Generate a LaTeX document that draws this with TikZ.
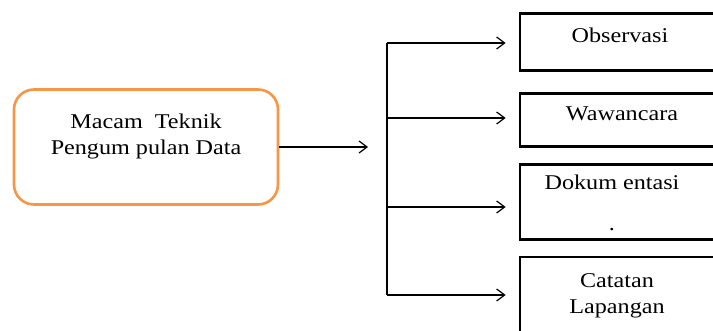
\documentclass[tikz,border=0pt]{standalone}
\usepackage{fontspec}
\setmainfont{Liberation Serif}[FakeStretch=1.15]
\usetikzlibrary{arrows.meta}
\definecolor{boxorange}{RGB}{247,150,70}

\begin{document}
\begin{tikzpicture}[x=1pt,y=-1pt,font=\fontsize{21}{26}\selectfont,
  main box/.style={draw=boxorange,line width=2.6pt,rounded corners=20pt,minimum width=264pt,minimum height=115pt},
  item box/.style={draw,line width=2.8pt,minimum width=196pt},
  label/.style={align=center,inner sep=0pt},
  arr/.style={-{Straight Barb[length=8pt,width=12pt]},line width=1.2pt}]
  \useasboundingbox (0,0) rectangle (713,331);

  % boxes
  \node[main box] (macam) at (146,147) {};
  \node[label] (macamtxt) at (146,136) {Macam\ \ Teknik\\Pengum pulan Data};

  \node[item box,minimum height=57pt] (obs) at (618,42) {};
  \node[label] (obstxt) at (620,35) {Observasi};
  \node[item box,minimum height=53pt] (waw) at (618,120) {};
  \node[label] (wawtxt) at (622,114) {Wawancara};
  \node[item box,minimum height=75pt] (dok) at (618,202) {};
  \node[label] (doktxt) at (612,203) {Dokum entasi\\[15pt].};
  \node[item box,minimum height=84pt] (cat) at (618,299) {};
  \node[label] (cattxt) at (617,296) {Catatan\\Lapangan};

  % connectors
  \coordinate (hub) at (368,147);
  \coordinate (t1) at (387,43);
  \coordinate (t2) at (387,118);
  \coordinate (t3) at (387,207);
  \coordinate (t4) at (387,295);

  \draw[arr] (macam.east) -- (hub);
  \draw[line width=1.2pt] (t1) -- (t4);
  \draw[arr,shorten >=13pt] (t1) -- (t1 -| obs.west);
  \draw[arr,shorten >=13pt] (t2) -- (t2 -| waw.west);
  \draw[arr,shorten >=13pt] (t3) -- (t3 -| dok.west);
  \draw[arr,shorten >=13pt] (t4) -- (t4 -| cat.west);
\end{tikzpicture}
\end{document}
